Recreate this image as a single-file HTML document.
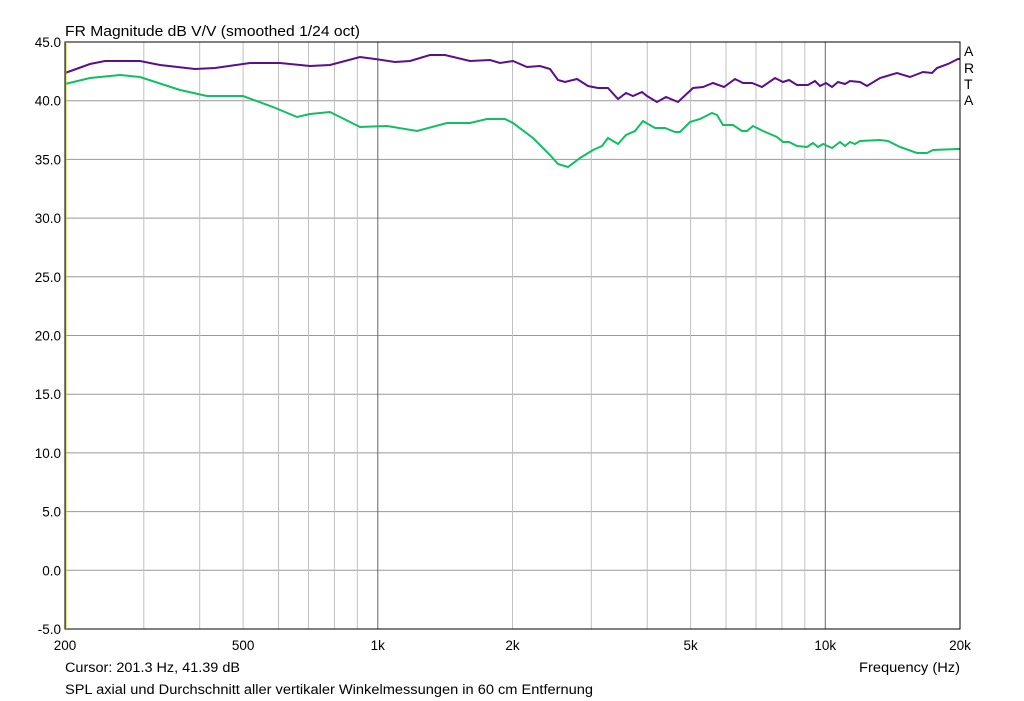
<!DOCTYPE html>
<html><head><meta charset="utf-8"><style>
html,body{margin:0;padding:0;background:#fff;}
svg{display:block;font-family:"Liberation Sans",sans-serif;}
</style></head><body>
<svg id="s" width="1024" height="701" xmlns="http://www.w3.org/2000/svg">
<rect width="1024" height="701" fill="#fff"/>
<g id="grid"></g>
<text x="65" y="36" font-size="14.5" textLength="295" lengthAdjust="spacingAndGlyphs">FR Magnitude dB V/V (smoothed 1/24 oct)</text>
<g font-size="14" fill="#000">
<text x="964" y="56">A</text><text x="964" y="73">R</text><text x="964" y="89">T</text><text x="964" y="105">A</text>
</g>
<text x="65" y="672" font-size="13.5" textLength="175" lengthAdjust="spacingAndGlyphs">Cursor: 201.3 Hz, 41.39 dB</text>
<text x="859" y="672" font-size="13.5" textLength="101" lengthAdjust="spacingAndGlyphs">Frequency (Hz)</text>
<text x="65" y="694" font-size="13.5" textLength="528" lengthAdjust="spacingAndGlyphs">SPL axial und Durchschnitt aller vertikaler Winkelmessungen in 60 cm Entfernung</text>
<polyline fill="none" stroke="#5b0f8a" stroke-width="2" points="65,73 90,64 105,61 140,61 160,65 195,69 215,68 250,63 280,63 310,66 330,65 360,57 375,59 395,62 410,61 430,55 445,55 470,61 490,60 500,63 513,61 527,67 540,66 550,69 558,80 565,82 577,79 588,86 598,88 608,88 618,99 626,93 633,96 642,92 647,96 657,102 666,97 678,102 693,88 703,87 713,83 724,87 735,79 743,83 752,83 762,87 775,78 783,82 789,80 797,85 808,85 815,81 820,86 826,83 832,87 838,82 845,84 850,81 860,82 867,86 880,78 897,73 910,77 923,72 932,73 937,68 948,64 958,59 960,59"/>
<polyline fill="none" stroke="#10c060" stroke-width="2" points="65,84 90,78 120,75 140,77 180,90 207,96 243,96 273,107 297,117 310,114 330,112 360,127 387,126 417,131 447,123 470,123 487,119 505,119 513,123 533,138 550,155 558,164 568,167 580,158 593,150 602,146 608,138 618,144 626,135 635,131 643,121 655,128 665,128 675,132 680,132 690,122 700,119 712,113 717,115 723,125 733,125 742,131 747,131 753,126 763,131 777,137 783,142 789,142 797,146 807,147 813,143 818,147 823,144 832,148 840,142 845,146 850,142 855,144 860,141 880,140 888,141 900,147 917,153 927,153 933,150 958,149 960,149"/>
<rect x="65" y="42" width="895" height="587" fill="none" stroke="#000" stroke-width="1"/>
<line x1="66" y1="42" x2="66" y2="629" stroke="#c8c800" stroke-width="1"/>
</svg>
<script>
var g=document.getElementById('grid'),ns='http://www.w3.org/2000/svg';
function el(t,a,txt){var e=document.createElementNS(ns,t);for(var k in a)e.setAttribute(k,a[k]);if(txt)e.textContent=txt;g.appendChild(e);}
for(var i=0;i<=10;i++){var v=45-5*i,y=42+i*58.7;
 el('line',{x1:65,x2:960,y1:y,y2:y,stroke:'#999','stroke-width':1});
 el('text',{x:61,y:y+5,'font-size':13.5,'text-anchor':'end'},v.toFixed(1));}
var fs=[300,400,500,600,700,800,900,1000,2000,3000,4000,5000,6000,7000,8000,9000,10000];
fs.forEach(function(f){var x=65+447.5*Math.log10(f/200);
 el('line',{x1:x,x2:x,y1:42,y2:629,stroke:(f==1000||f==10000)?'#666':'#c0c0c0','stroke-width':1});});
var lab={200:'200',500:'500',1000:'1k',2000:'2k',5000:'5k',10000:'10k',20000:'20k'};
for(var f in lab){var x=65+447.5*Math.log10(f/200);el('text',{x:x,y:650,'font-size':13.5,'text-anchor':'middle'},lab[f]);}
</script>
</body></html>
